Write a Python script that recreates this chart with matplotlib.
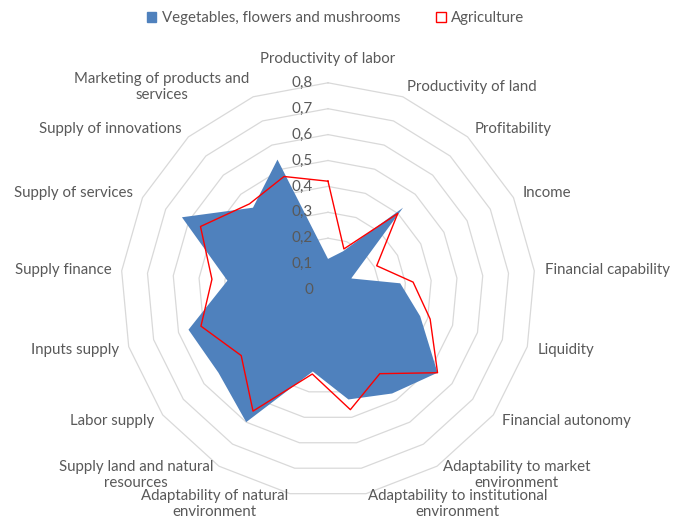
import numpy as np
import matplotlib
matplotlib.use("Agg")
import matplotlib.pyplot as plt
from matplotlib.patches import Patch

categories = ["Productivity of labor", "Productivity of land", "Profitability", "Income",
              "Financial capability", "Liquidity", "Financial autonomy",
              "Adaptability to market\nenvironment", "Adaptability to institutional\nenvironment",
              "Adaptability of natural\nenvironment", "Supply land and natural\nresources",
              "Labor supply", "Inputs supply", "Supply finance", "Supply of services",
              "Supply of innovations", "Marketing of products and\nservices"]
vegetables = [0.12, 0.16, 0.43, 0.10, 0.28, 0.37, 0.53, 0.47, 0.43, 0.32, 0.60, 0.53, 0.56, 0.39, 0.63, 0.43, 0.54]
agriculture = [0.42, 0.17, 0.40, 0.21, 0.33, 0.41, 0.53, 0.38, 0.47, 0.33, 0.55, 0.42, 0.51, 0.45, 0.55, 0.45, 0.47]
levels = [0, 0.1, 0.2, 0.3, 0.4, 0.5, 0.6, 0.7, 0.8]
level_labels = ["0", "0,1", "0,2", "0,3", "0,4", "0,5", "0,6", "0,7", "0,8"]

plt.rcParams['font.family'] = ['Lato', 'DejaVu Sans']
text_col = '#595959'
blue = '#4F81BD'
red = '#FF0000'

n = len(categories)
theta = np.arange(n) * 2 * np.pi / n   # clockwise from top


def to_xy(r):
    r = np.asarray(r, dtype=float)
    return r * np.sin(theta), r * np.cos(theta)


W, H = 675, 520
cx, cy, scale = 328, 290, 259.0

fig = plt.figure(figsize=(W / 100, H / 100), dpi=100)
ax = fig.add_axes([0, 0, 1, 1])
ax.set_xlim(-cx / scale, (W - cx) / scale)
ax.set_ylim(-(H - cy) / scale, cy / scale)
ax.axis('off')

# polygon gridlines
for lv in levels[1:]:
    gx, gy = to_xy([lv] * n)
    ax.plot(np.append(gx, gx[0]), np.append(gy, gy[0]), color='#D9D9D9', lw=0.9, zorder=1)

vx, vy = to_xy(vegetables)
ax.fill(vx, vy, color=blue, lw=0, zorder=2)

ax_, ay_ = to_xy(agriculture)
ax.plot(np.append(ax_, ax_[0]), np.append(ay_, ay_[0]), color=red, lw=1.0, zorder=3)

# value labels along the vertical axis
for lv, lab in zip(levels, level_labels):
    ax.text(-15 / scale, lv, lab, ha='right', va='center', fontsize=11, color=text_col, zorder=4)

# category labels
for i, cat in enumerate(categories):
    s, c = np.sin(theta[i]), np.cos(theta[i])
    if abs(s) < 0.05:
        r = 0.89
        ha = 'center'
    else:
        r = 0.84
        ha = 'left' if s > 0 else 'right'
    ax.text(r * s, r * c, cat, ha=ha, va='center', multialignment='center',
            fontsize=10.8, color=text_col, linespacing=1.15)

handles = [Patch(facecolor=blue, edgecolor=blue),
           Patch(facecolor='white', edgecolor=red, lw=1.0)]
fig.legend(handles, ["Vegetables, flowers and mushrooms", "Agriculture"],
           loc='center', bbox_to_anchor=(0.497, 1 - 18 / H), ncol=2, frameon=False,
           fontsize=10.8, handlelength=0.65, handleheight=0.65, handletextpad=0.35,
           columnspacing=2.4, labelcolor=text_col)

fig.savefig("out.png", dpi=100)
